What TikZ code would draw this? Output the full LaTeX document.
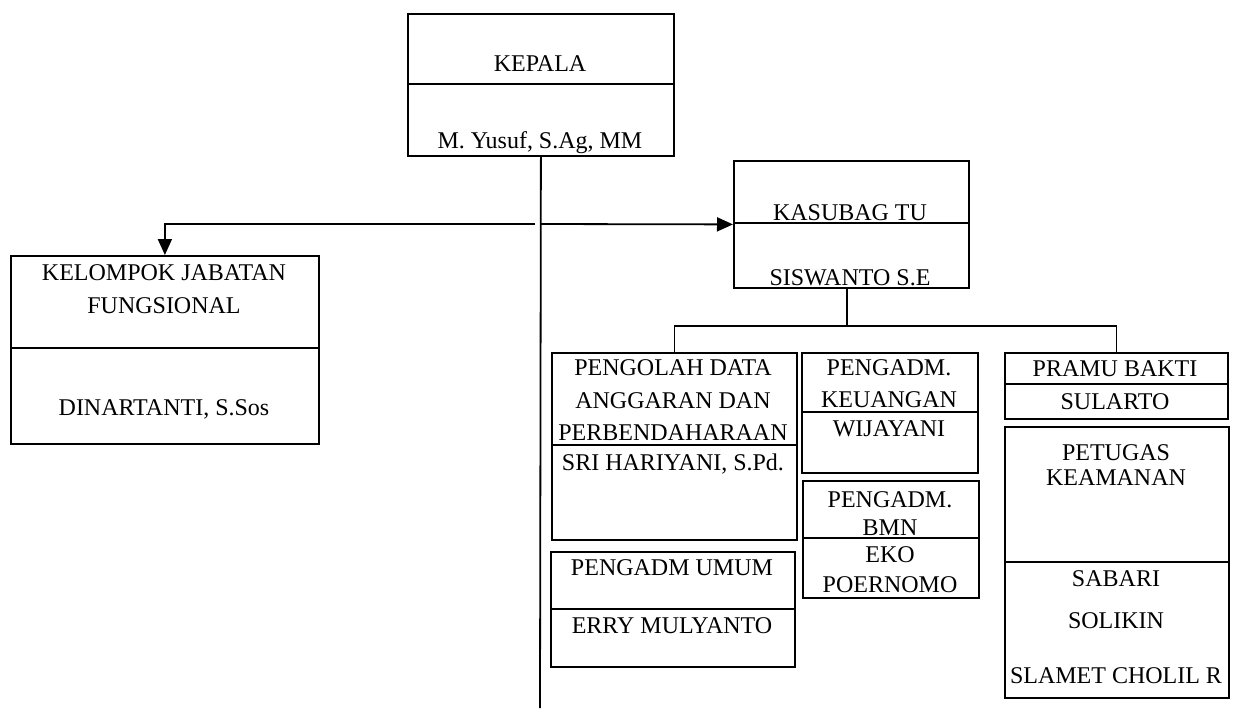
\documentclass[tikz,border=0pt]{standalone}
\usepackage{fontspec}
\setmainfont{Liberation Serif}
\usetikzlibrary{arrows.meta,calc}
\begin{document}
\begin{tikzpicture}[x=0.5pt,y=-0.5pt,
  box/.style={draw,line width=0.9pt,anchor=north west,inner sep=0pt},
  div/.style={line width=0.9pt},
  conn/.style={line width=0.9pt},
  tip/.style={-{Triangle[length=8pt,width=7pt]}},
  lbl/.style={anchor=base,inner sep=0pt,font=\fontsize{12}{14}\selectfont}]
\useasboundingbox (0,0) rectangle (1233,709);
% boxes
\node[box,minimum width=133pt,minimum height=71pt] (kepala) at (407,13) {};
\node[box,minimum width=117.5pt,minimum height=63.5pt] (kasubag) at (733,160) {};
\node[box,minimum width=154pt,minimum height=94pt] (kelompok) at (10,255) {};
\node[box,minimum width=122.5pt,minimum height=93.5pt] (pengolah) at (551,352) {};
\node[box,minimum width=88pt,minimum height=60pt] (keuangan) at (801,352) {};
\node[box,minimum width=88pt,minimum height=58.5pt] (bmn) at (802,480) {};
\node[box,minimum width=122pt,minimum height=57.5pt] (umum) at (550,551) {};
\node[box,minimum width=111.5pt,minimum height=33pt] (pramu) at (1004,352) {};
\node[box,minimum width=112pt,minimum height=135.5pt] (petugas) at (1004,426) {};
% dividers
\draw[div] (407,84) -- (673,84);
\draw[div] (733,223) -- (968,223);
\draw[div] (10,348) -- (318,348);
\draw[div] (551,445) -- (796,445);
\draw[div] (801,412) -- (977,412);
\draw[div] (802,538) -- (978,538);
\draw[div] (550,609) -- (794,609);
\draw[div] (1004,384) -- (1227,384);
\draw[div] (1004,562) -- (1228,562);
% texts
\node[lbl] (t1) at (540,71) {KEPALA};
\node[lbl] (t2) at (540,148) {M. Yusuf, S.Ag, MM};
\node[lbl] (t3) at (850,220) {KASUBAG TU};
\node[lbl] (t4) at (850,285) {SISWANTO S.E};
\node[lbl] (t5) at (164,280) {KELOMPOK JABATAN};
\node[lbl] (t6) at (164,313) {FUNGSIONAL};
\node[lbl] (t7) at (164,415) {DINARTANTI, S.Sos};
\node[lbl] (t8) at (673,375) {PENGOLAH DATA};
\node[lbl] (t9) at (673,408) {ANGGARAN DAN};
\node[lbl] (t10) at (673,440) {PERBENDAHARAAN};
\node[lbl] (t11) at (673,470) {SRI HARIYANI, S.Pd.};
\node[lbl] (t12) at (889,375) {PENGADM.};
\node[lbl] (t13) at (889,407) {KEUANGAN};
\node[lbl] (t14) at (889,436) {WIJAYANI};
\node[lbl] (t15) at (890,507) {PENGADM.};
\node[lbl] (t16) at (890,535) {BMN};
\node[lbl] (t17) at (890,562) {EKO};
\node[lbl] (t18) at (890,592) {POERNOMO};
\node[lbl] (t19) at (672,575) {PENGADM UMUM};
\node[lbl] (t20) at (672,633) {ERRY MULYANTO};
\node[lbl] (t21) at (1115,376) {PRAMU BAKTI};
\node[lbl] (t22) at (1115,409) {SULARTO};
\node[lbl] (t23) at (1116,460) {PETUGAS};
\node[lbl] (t24) at (1116,485) {KEAMANAN};
\node[lbl] (t25) at (1116,586) {SABARI};
\node[lbl] (t26) at (1116,628) {SOLIKIN};
\node[lbl] (t27) at (1116,683) {SLAMET CHOLIL R};
% connectors
\coordinate (mend) at (540,708);
\coordinate (j) at (540,224);
\coordinate (jl) at (535,224);
\draw[conn] (kepala.south) -- (mend);
\draw[conn,tip] (j) -- (kasubag.west);
\draw[conn,tip] (jl) -| (kelompok.north);
\coordinate (ks) at ($(kasubag.south)+(-4.5,0)$);
\draw[conn] (ks) -- ++(0,37);
\draw[conn] (pengolah.north) |- ($(ks)+(0,37)$) -| (pramu.north);
\end{tikzpicture}
\end{document}
